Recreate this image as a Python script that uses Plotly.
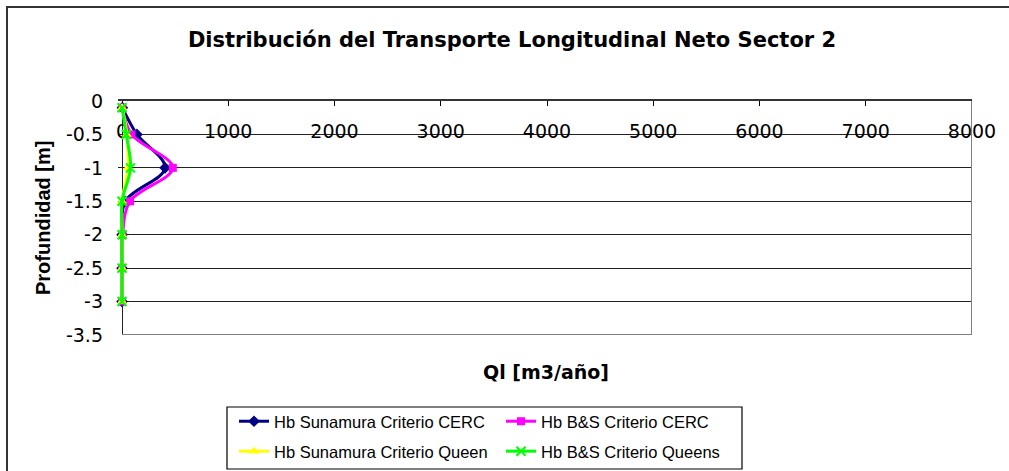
import plotly.graph_objects as go

# Depth of each sampling point [m]
profundidad = [-0.1, -0.5, -1.0, -1.5, -2.0, -2.5, -3.0]

# Net longitudinal transport Ql [m3/año] for each wave-height / formula combination
ql_sunamura_cerc = [3, 140, 405, 30, 0, 0, 0]
ql_bs_cerc = [3, 90, 478, 75, 5, 0, 0]
ql_sunamura_queen = [0, 45, 55, 0, 0, 0, 0]
ql_bs_queens = [0, 40, 80, 0, 0, 0, 0]

nombres = [
    "Hb Sunamura Criterio CERC",
    "Hb B&S Criterio CERC",
    "Hb Sunamura Criterio Queen",
    "Hb B&S Criterio Queens",
]

x_ticks = [0, 1000, 2000, 3000, 4000, 5000, 6000, 7000, 8000]
x_ticktext = ["0", "1000", "2000", "3000", "4000", "5000", "6000", "7000", "8000"]
y_ticks = [0, -0.5, -1, -1.5, -2, -2.5, -3, -3.5]
y_ticktext = ["0", "-0.5", "-1", "-1.5", "-2", "-2.5", "-3", "-3.5"]

W, H = 1009, 471
L, R, T, B = 118, 972, 101, 335  # plot area in pixels
PW, PH = R - L, B - T


def px_x(p):
    return (p - L) / PW


def px_y(p):
    return (B - p) / PH


series = [
    (ql_sunamura_cerc, "#000080", dict(symbol="diamond", size=9), "legend"),
    (ql_bs_cerc, "#FF00FF", dict(symbol="square", size=8), "legend2"),
    (ql_sunamura_queen, "#FFFF00", dict(symbol="triangle-up", size=9), "legend"),
    (ql_bs_queens, "#00FF00", dict(symbol="x-thin", size=9, line=dict(width=2, color="#00FF00")), "legend2"),
]

fig = go.Figure()
for (vals, color, mk, leg), name in zip(series, nombres):
    fig.add_trace(go.Scatter(
        x=vals, y=profundidad, name=name, mode="lines+markers",
        line=dict(color=color, width=3, shape="spline"),
        marker=dict(color=color, **mk),
        cliponaxis=False, legend=leg, legendgroup=name,
    ))

font_tick = dict(family="DejaVu Sans", size=19, color="black")
legend_font = dict(family="Liberation Sans", size=16.5, color="black")

fig.update_layout(
    width=W, height=H,
    margin=dict(l=L, r=W - R, t=T, b=H - B, pad=0, autoexpand=False),
    paper_bgcolor="white", plot_bgcolor="white",
    title=dict(
        text="<b>Distribución del Transporte Longitudinal Neto Sector 2</b>",
        font=dict(family="DejaVu Sans", size=21, color="black"),
        x=512 / W, xref="container", xanchor="center",
        y=1 - 40 / H, yref="container", yanchor="middle",
    ),
    xaxis=dict(
        range=[-38, 8000], side="top",
        tickvals=x_ticks, ticktext=x_ticktext, tickfont=font_tick, tickangle=0,
        ticks="inside", ticklen=5, tickcolor="black", tickwidth=1,
        ticklabelposition="inside", ticklabeloverflow="allow", ticklabelstandoff=20,
        showline=True, linecolor="#333333", linewidth=1.5,
        showgrid=False, zeroline=True, zerolinecolor="#222222", zerolinewidth=1.2,
        layer="below traces",
    ),
    yaxis=dict(
        range=[-3.5, 0],
        tickvals=y_ticks, ticktext=y_ticktext, tickfont=font_tick,
        ticks="", ticklabelstandoff=14,
        showline=False, showgrid=True, gridcolor="#222222", gridwidth=1.2,
        zeroline=False, layer="below traces",
    ),
    legend=dict(
        orientation="v", xref="container", yref="container",
        x=234 / W, xanchor="left", y=1 - 404 / H, yanchor="top",
        font=legend_font, bgcolor="rgba(0,0,0,0)", borderwidth=0,
        tracegroupgap=5.5,
    ),
    legend2=dict(
        orientation="v", xref="container", yref="container",
        x=501 / W, xanchor="left", y=1 - 404 / H, yanchor="top",
        font=legend_font, bgcolor="rgba(0,0,0,0)", borderwidth=0,
        tracegroupgap=5.5,
    ),
    showlegend=True,
)

# Axis titles
fig.add_annotation(
    text="<b>Ql [m3/año]</b>", xref="paper", yref="paper",
    x=px_x(546), y=px_y(372), xanchor="center", yanchor="middle", showarrow=False,
    font=dict(family="DejaVu Sans", size=19, color="black"),
)
fig.add_annotation(
    text="<b>Profundidad [m]</b>", xref="paper", yref="paper",
    x=px_x(43), y=px_y(218), xanchor="center", yanchor="middle",
    showarrow=False, textangle=-90,
    font=dict(family="Liberation Sans", size=20, color="black"),
)

# Plot-area border (bottom and right) in gray
fig.add_shape(type="line", xref="x", yref="y", x0=0, x1=8000, y0=-3.5, y1=-3.5,
              line=dict(color="#808080", width=2))
fig.add_shape(type="line", xref="x", yref="y", x0=8000, x1=8000, y0=0, y1=-3.5,
              line=dict(color="#808080", width=2))

# Legend frame
fig.add_shape(type="rect", xref="paper", yref="paper",
              x0=px_x(227), x1=px_x(742), y0=px_y(469), y1=px_y(407),
              line=dict(color="black", width=1.2), fillcolor="rgba(0,0,0,0)")

# Outer chart frame
fig.add_shape(type="rect", xref="paper", yref="paper",
              x0=px_x(7), x1=px_x(1100), y0=px_y(600), y1=px_y(7),
              line=dict(color="#333333", width=2), fillcolor="rgba(0,0,0,0)")

fig.write_html("out.html")
